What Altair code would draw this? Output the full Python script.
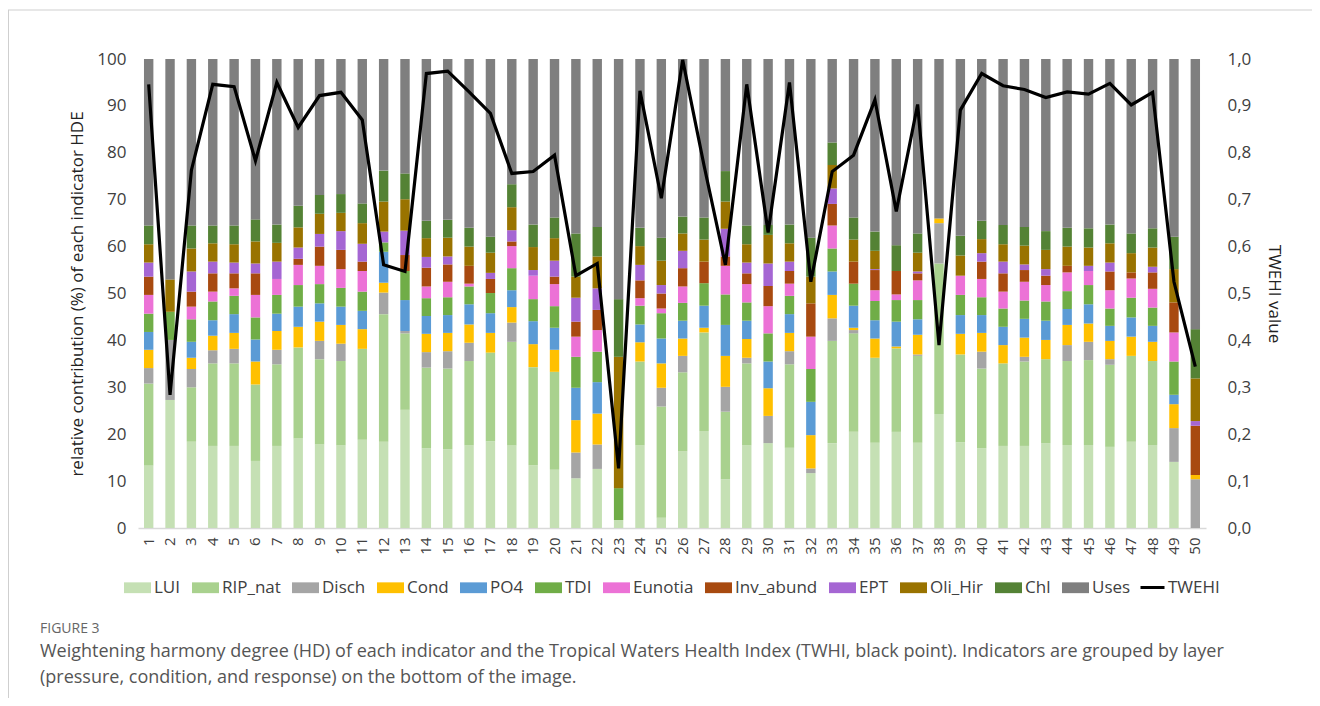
import altair as alt
import pandas as pd

sites = list(range(1, 51))

components = ["LUI", "RIP_nat", "Disch", "Cond", "PO4", "TDI", "Eunotia",
              "Inv_abund", "EPT", "Oli_Hir", "Chl", "Uses"]
colors = ["#C5E0B4", "#A9D18E", "#A5A5A5", "#FFC000", "#5B9BD5", "#70AD47",
          "#EC72D6", "#A84A10", "#A566D3", "#997300", "#548235", "#7F7F7F"]

LUI = [13.3, 27.3, 18.4, 17.5, 17.5, 14.3, 17.5, 19.1, 17.8, 17.6,
       18.8, 18.4, 25.2, 17.0, 16.8, 17.6, 18.5, 17.6, 13.3, 12.4,
       10.6, 12.6, 1.7, 17.6, 2.2, 16.4, 20.7, 10.4, 17.6, 18.1,
       17.1, 11.7, 18.1, 20.5, 18.2, 20.5, 18.2, 24.3, 18.3, 17.0,
       17.5, 17.5, 18.1, 17.7, 17.7, 17.3, 18.4, 17.7, 14.1, 0.0]
RIP_nat = [17.5, 0.0, 11.6, 17.6, 17.6, 16.3, 17.4, 19.4, 18.2, 18.0,
           19.4, 27.2, 16.3, 17.2, 17.2, 18.0, 18.9, 22.1, 21.0, 20.9,
           0.0, 0.0, 0.0, 17.9, 23.7, 16.8, 21.0, 14.4, 17.5, 0.0,
           17.8, 0.0, 21.8, 21.0, 18.1, 17.8, 18.5, 32.1, 18.7, 17.0,
           17.6, 18.0, 17.9, 17.9, 18.1, 17.5, 18.3, 17.9, 0.0, 0.0]
Disch = [3.3, 12.8, 3.9, 2.8, 3.1, 0.0, 3.1, 0.0, 3.9, 3.7,
         0.0, 4.6, 0.5, 3.3, 3.7, 3.9, 0.0, 4.1, 0.0, 0.0,
         5.5, 5.2, 0.0, 0.0, 4.0, 3.5, 0.0, 5.3, 1.2, 5.8,
         2.8, 1.0, 4.8, 0.7, 0.0, 0.0, 0.3, 8.6, 0.0, 3.6,
         0.0, 1.0, 0.0, 3.4, 3.9, 1.2, 0.0, 0.0, 7.2, 10.4]
Cond = [3.9, 0.0, 2.4, 3.1, 3.4, 4.9, 4.0, 4.4, 4.1, 4.0,
        4.2, 2.1, 0.0, 3.9, 3.9, 3.9, 4.2, 3.3, 4.9, 4.7,
        6.9, 6.6, 0.0, 4.1, 5.2, 3.7, 1.0, 6.6, 4.0, 5.9,
        3.9, 7.1, 5.0, 0.5, 4.1, 0.4, 4.2, 1.0, 4.4, 4.0,
        3.9, 4.1, 4.1, 4.3, 3.9, 3.9, 4.1, 4.1, 5.1, 0.9]
PO4 = [3.8, 0.0, 3.4, 3.3, 4.0, 4.7, 3.7, 4.3, 3.9, 3.9,
       3.9, 6.6, 6.6, 3.8, 3.8, 4.3, 4.2, 3.6, 4.9, 4.7,
       6.9, 6.7, 0.0, 3.8, 5.3, 3.8, 4.7, 6.6, 3.9, 5.7,
       4.0, 7.1, 5.0, 4.7, 3.9, 5.3, 3.3, 0.0, 4.0, 3.8,
       3.9, 4.0, 4.1, 3.4, 4.1, 3.2, 4.1, 3.4, 2.0, 0.0]
TDI = [3.9, 6.0, 4.8, 4.0, 3.9, 4.7, 4.0, 4.6, 4.1, 4.0,
       4.1, 2.0, 6.2, 3.8, 3.8, 3.8, 4.3, 4.7, 4.7, 4.6,
       6.6, 6.5, 6.8, 4.0, 5.4, 3.8, 4.8, 6.5, 3.9, 6.0,
       3.9, 7.0, 4.9, 4.7, 4.1, 4.6, 4.1, 0.0, 4.3, 3.8,
       3.9, 3.9, 4.1, 3.8, 4.1, 3.7, 4.2, 3.9, 7.1, 0.0]
Eunotia = [4.0, 0.0, 2.7, 2.1, 1.6, 4.8, 3.4, 4.3, 3.9, 4.0,
           4.4, 0.0, 0.0, 2.5, 3.3, 0.6, 0.0, 4.7, 5.0, 4.7,
           4.3, 4.6, 0.0, 1.6, 1.0, 3.5, 0.0, 6.1, 3.9, 5.8,
           2.6, 6.9, 4.9, 0.0, 2.3, 1.2, 4.2, 0.0, 4.1, 3.9,
           3.6, 4.0, 3.5, 4.0, 3.0, 3.9, 4.1, 4.0, 6.2, 0.0]
Inv_abund = [3.9, 0.0, 3.2, 3.9, 3.2, 4.6, 0.0, 1.3, 4.1, 4.1,
             2.0, 0.0, 3.4, 4.0, 3.7, 3.8, 3.0, 1.0, 0.0, 1.6,
             3.2, 4.3, 0.0, 3.8, 3.2, 3.9, 4.6, 2.0, 2.3, 4.3,
             2.7, 7.1, 4.6, 4.7, 4.3, 5.0, 1.5, 0.0, 0.0, 3.7,
             3.9, 2.5, 2.0, 1.4, 0.0, 4.0, 1.3, 3.5, 6.4, 10.5]
EPT = [3.0, 0.0, 4.3, 2.5, 2.3, 2.1, 3.7, 2.4, 2.7, 4.0,
       3.8, 2.3, 5.2, 2.3, 1.7, 0.0, 1.3, 2.4, 1.2, 3.4,
       5.1, 4.6, 0.0, 3.3, 1.8, 3.7, 0.0, 5.9, 2.3, 4.8,
       2.0, 0.0, 3.3, 0.0, 0.2, 0.0, 0.4, 0.0, 0.0, 1.8,
       2.5, 1.2, 1.4, 0.0, 1.1, 1.9, 0.0, 1.2, 0.0, 1.0]
Oli_Hir = [3.9, 6.9, 4.9, 3.9, 3.9, 4.7, 4.0, 4.3, 4.3, 3.9,
           4.4, 6.4, 6.7, 4.0, 4.0, 4.1, 4.3, 4.9, 4.9, 4.8,
           4.5, 6.8, 28.0, 4.0, 5.2, 3.7, 4.7, 5.8, 3.9, 6.1,
           3.9, 5.7, 5.0, 4.7, 3.9, 0.0, 4.0, 0.0, 4.3, 3.0,
           3.7, 4.0, 4.1, 4.1, 3.9, 4.1, 4.1, 4.1, 7.1, 9.1]
Chl = [4.0, 0.0, 4.9, 3.8, 4.0, 4.7, 3.9, 4.6, 4.0, 4.0,
       4.2, 6.6, 5.5, 3.7, 3.8, 4.0, 3.4, 4.9, 4.8, 4.4,
       9.2, 6.3, 12.3, 3.9, 4.9, 3.6, 4.7, 6.5, 4.0, 2.1,
       4.0, 8.3, 4.8, 4.7, 4.1, 5.5, 4.1, 0.0, 4.2, 3.9,
       4.1, 4.0, 4.0, 4.0, 4.1, 4.0, 4.2, 4.1, 6.9, 10.5]
Uses = [35.5, 47.0, 35.5, 35.5, 35.5, 34.2, 35.3, 31.3, 29.0, 28.8,
        30.8, 23.8, 24.4, 34.5, 34.3, 36.0, 37.9, 26.7, 35.3, 33.8,
        37.2, 35.8, 51.2, 36.0, 38.1, 33.6, 33.8, 23.9, 35.5, 35.4,
        35.3, 38.1, 17.8, 33.8, 36.8, 39.7, 37.2, 34.0, 37.7, 34.5,
        35.4, 35.8, 36.7, 36.0, 36.1, 35.3, 37.2, 36.1, 37.9, 57.6]

TWEHI = [0.946, 0.284, 0.763, 0.946, 0.941, 0.783, 0.950, 0.854, 0.922, 0.929,
         0.870, 0.561, 0.547, 0.969, 0.974, 0.930, 0.884, 0.756, 0.760, 0.795,
         0.538, 0.564, 0.127, 0.932, 0.703, 0.998, 0.773, 0.561, 0.946, 0.630,
         0.950, 0.525, 0.760, 0.795, 0.913, 0.675, 0.903, 0.390, 0.891, 0.969,
         0.943, 0.935, 0.918, 0.930, 0.925, 0.948, 0.902, 0.929, 0.525, 0.344]

series = [LUI, RIP_nat, Disch, Cond, PO4, TDI, Eunotia, Inv_abund, EPT,
          Oli_Hir, Chl, Uses]

rows = []
for k, (name, vals) in enumerate(zip(components, series)):
    for s, v in zip(sites, vals):
        rows.append({"site": str(s), "indicator": name, "order": k, "value": v})
bars_df = pd.DataFrame(rows)
line_df = pd.DataFrame({"site": [str(s) for s in sites], "twehi": TWEHI,
                        "lab": ["TWEHI"] * len(sites)})

site_order = [str(s) for s in sites]
FONT = "Open Sans"
TXT = "#404040"

x_enc = alt.X("site:N", sort=site_order,
              scale=alt.Scale(paddingInner=0.56, paddingOuter=0.28),
              axis=alt.Axis(title=None, labelAngle=-90, labelFontSize=15,
                            labelFont=FONT, labelColor=TXT, ticks=False,
                            labelPadding=9, domainColor="#D9D9D9",
                            domainWidth=1.5, grid=False))

bars = alt.Chart(bars_df).mark_bar().encode(
    x=x_enc,
    y=alt.Y("value:Q", stack="zero",
            scale=alt.Scale(domain=[0, 100], nice=False),
            axis=alt.Axis(title="relative contribution (%) of each indicator HDE",
                          values=list(range(0, 101, 10)), grid=False,
                          domain=False, ticks=False, labelFontSize=17,
                          labelFont=FONT, labelColor=TXT, labelPadding=12,
                          titleFont=FONT, titleFontSize=17,
                          titleFontWeight="normal", titleColor="#222222",
                          titlePadding=10)),
    color=alt.Color("indicator:N", sort=components,
                    scale=alt.Scale(domain=components, range=colors),
                    legend=alt.Legend(title=None, orient="none",
                                      direction="horizontal", columns=12,
                                      legendX=-14, legendY=515,
                                      symbolType="M-1,-0.4H1V0.4H-1Z",
                                      symbolSize=729, symbolStrokeWidth=0,
                                      symbolOpacity=1, labelFontSize=17,
                                      labelFont=FONT, labelColor=TXT,
                                      labelOffset=3, columnPadding=11)),
    order=alt.Order("order:Q", sort="ascending"),
)

line = alt.Chart(line_df).mark_line(strokeWidth=3.2).encode(
    x=alt.X("site:N", sort=site_order),
    y=alt.Y("twehi:Q", scale=alt.Scale(domain=[0, 1], nice=False),
            axis=alt.Axis(title="TWEHI value", orient="right",
                          values=[i / 10 for i in range(11)], format=".1f",
                          labelExpr="replace(datum.label, '.', ',')",
                          grid=False, domain=False, ticks=False,
                          labelFontSize=17, labelFont=FONT, labelColor=TXT,
                          labelPadding=21, titleFont=FONT, titleFontSize=17,
                          titleFontWeight="normal", titleColor="#222222",
                          titlePadding=14)),
    stroke=alt.Stroke("lab:N", scale=alt.Scale(domain=["TWEHI"], range=["#000000"]),
                      legend=alt.Legend(title=None, orient="none",
                                        legendX=1001, legendY=515,
                                        symbolType="stroke", symbolSize=576,
                                        symbolStrokeWidth=3, labelFontSize=17,
                                        labelFont=FONT, labelColor=TXT,
                                        labelOffset=2)),
)

frame_top = alt.Chart(pd.DataFrame({"f": [0]})).mark_rule(
    color="#CFCFCF", strokeWidth=1).encode(
    x=alt.value(-130), x2=alt.value(1190), y=alt.value(-49))
frame_left = alt.Chart(pd.DataFrame({"f": [0]})).mark_rule(
    color="#CFCFCF", strokeWidth=1).encode(
    x=alt.value(-129.5), y=alt.value(-49), y2=alt.value(660))

chart = alt.layer(bars, line, frame_top, frame_left).resolve_scale(
    y="independent", color="independent", stroke="independent"
).properties(
    width=1068, height=469,
    autosize=alt.AutoSizeParams(type="none"),
    padding={"left": 130, "top": 51, "right": 106, "bottom": 170},
    title=alt.TitleParams(
        text="FIGURE 3",
        subtitle=["Weightening harmony degree (HD) of each indicator and the Tropical Waters Health Index (TWHI, black point). Indicators are grouped by layer",
                  "(pressure, condition, and response) on the bottom of the image."],
        orient="bottom", anchor="start", frame="group",
        dx=-98, dy=-98, offset=0,
        font=FONT, fontSize=14, fontWeight="normal", color="#666666",
        subtitleFont=FONT, subtitleFontSize=18, subtitleColor="#555555",
        subtitlePadding=7, subtitleLineHeight=26,
    ),
).configure_view(stroke=None)

chart.save("out.html", embed_options={"renderer": "svg", "actions": False})
